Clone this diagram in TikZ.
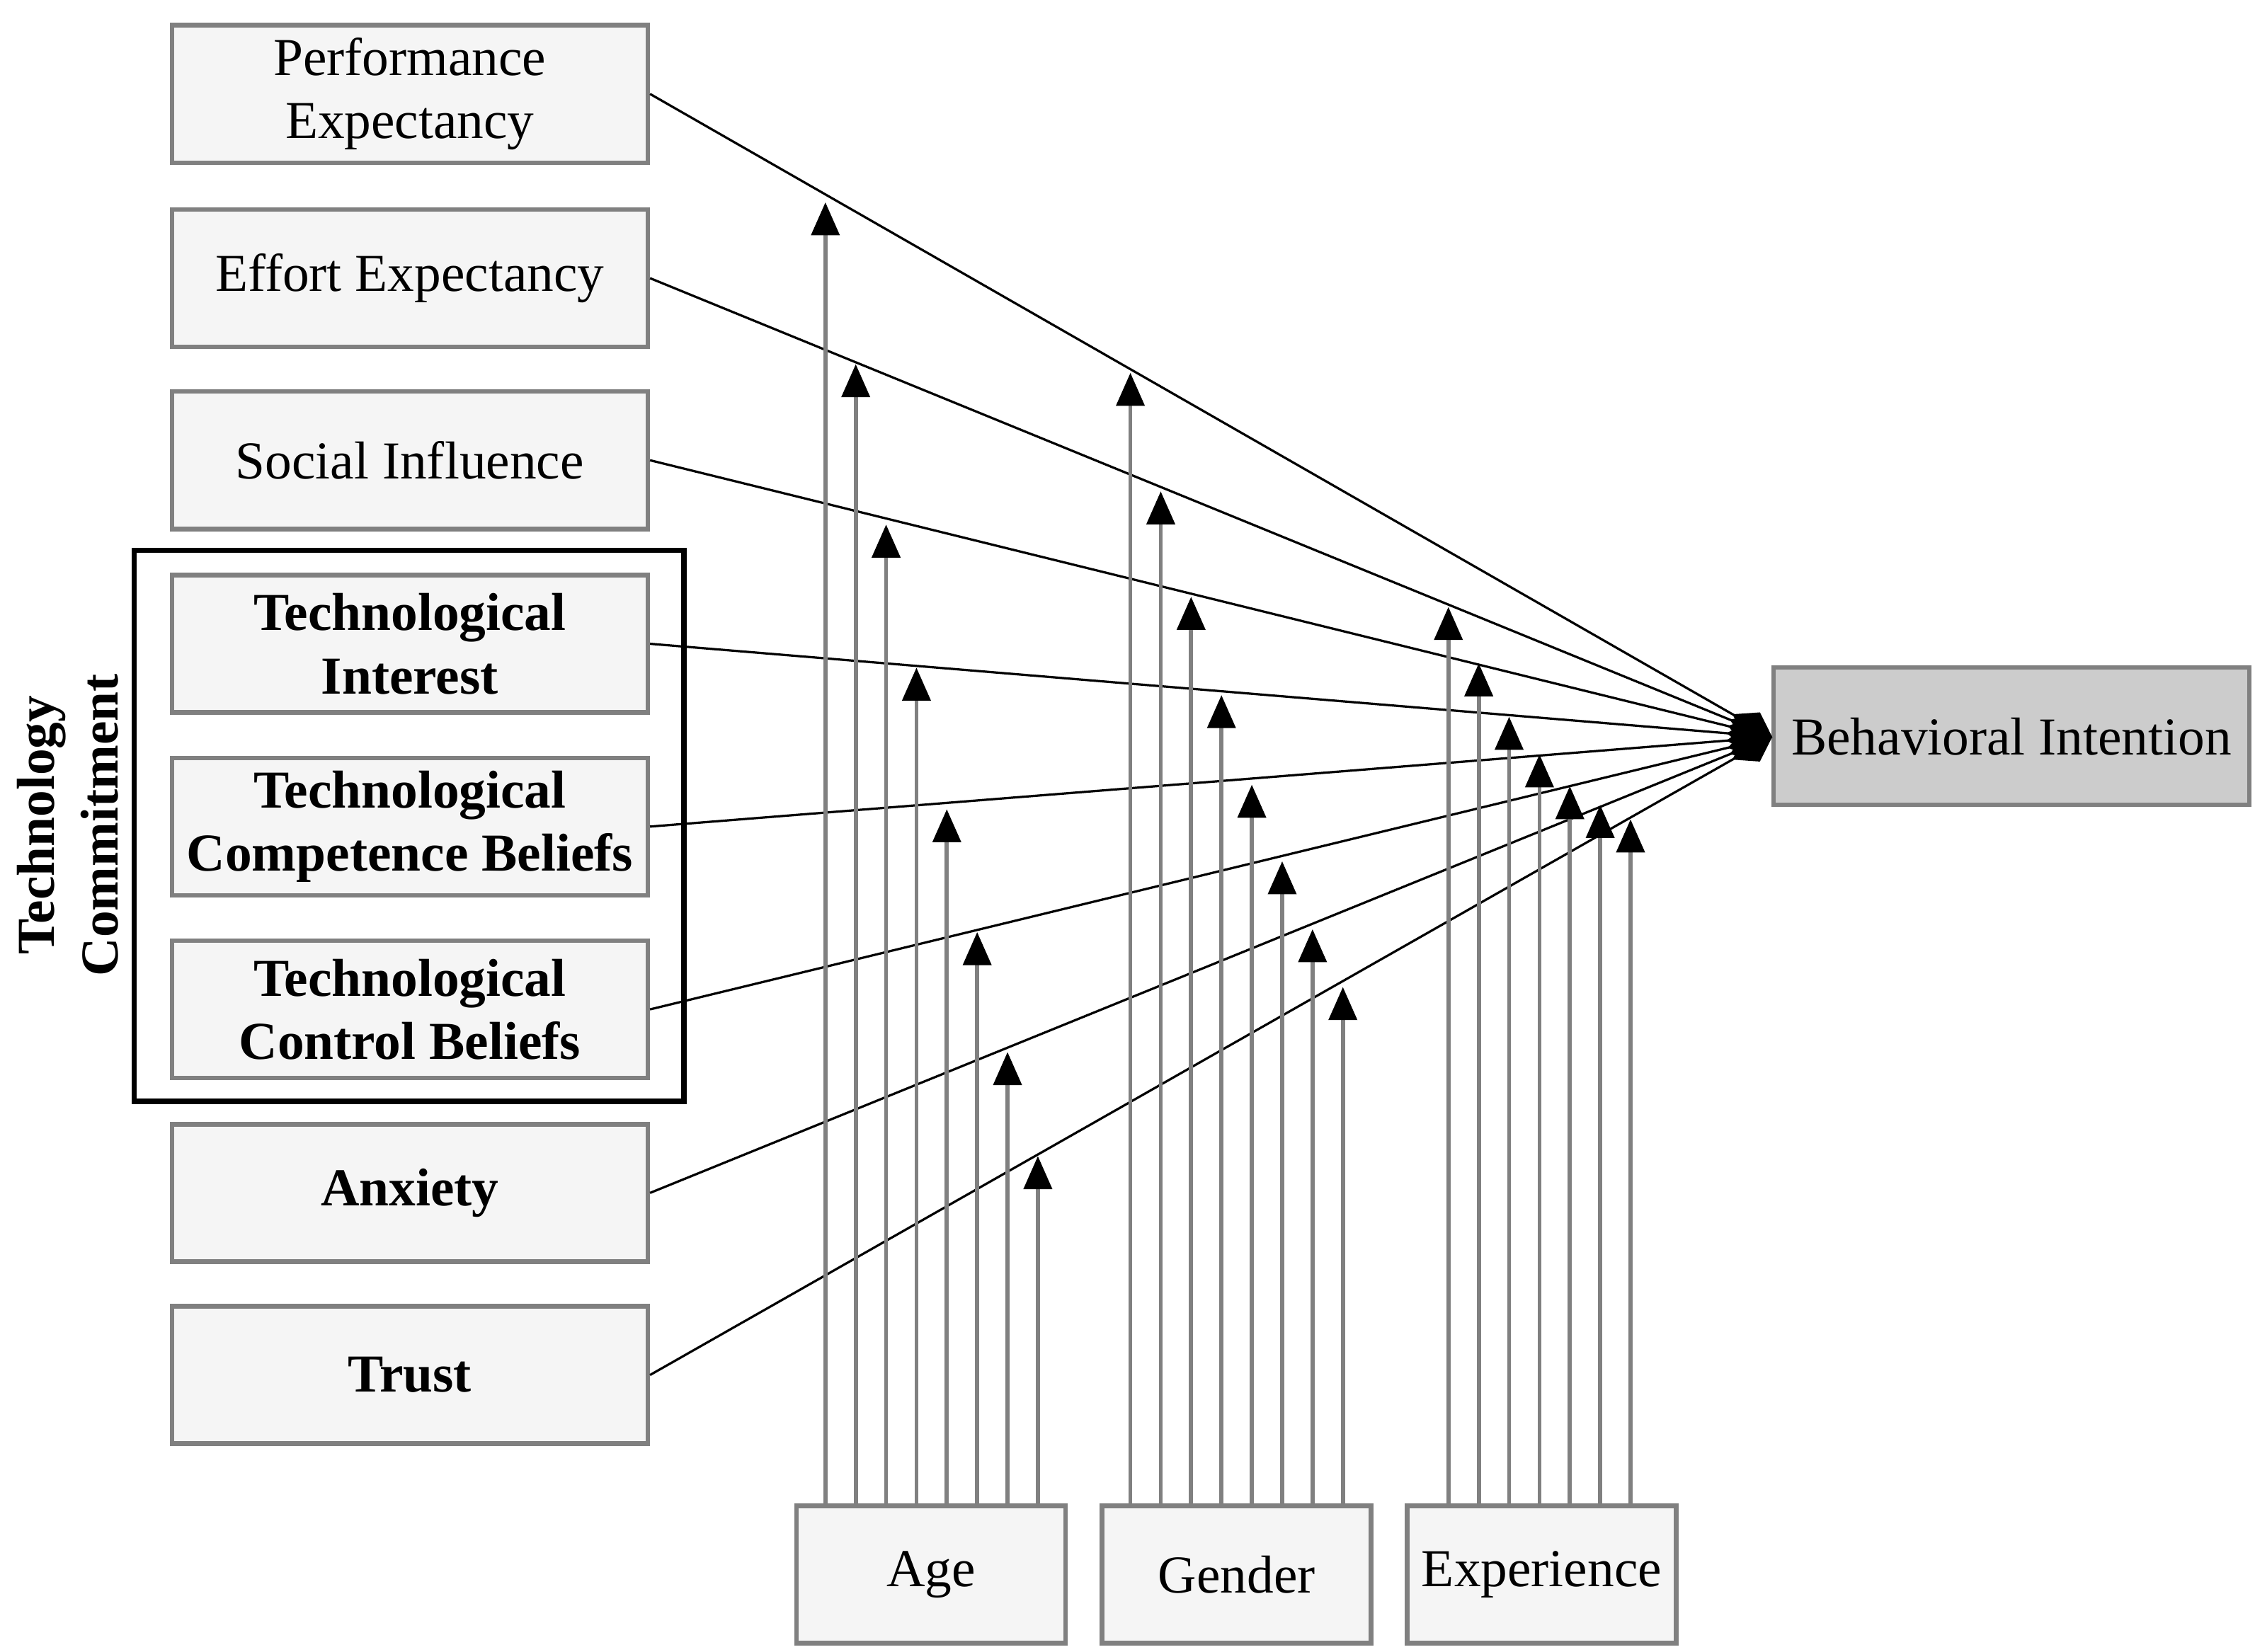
\documentclass[tikz,border=0pt]{standalone}
\usepackage{fontspec}
\setmainfont{Liberation Serif}
\usetikzlibrary{arrows.meta}
\begin{document}
\begin{tikzpicture}[x=0.01cm,y=-0.01cm,
  box/.style={draw=black!50,line width=0.9pt,fill=black!4,minimum width=3.29cm,minimum height=0.95cm,align=center,font=\fontsize{10.5}{12.5}\selectfont,inner sep=0pt},
  mbox/.style={box,minimum width=1.86cm},
  conn/.style={black,line width=0.45pt,-{Diamond[width=6pt,length=9pt]}},
  mod/.style={draw=black!50,line width=0.8pt,-{Triangle[color=black,width=5.5pt,length=6.5pt]}}]
\useasboundingbox (0,0) rectangle (1560,1143);
\node[box] (pe) at (283.5,65) {Performance\\Expectancy};
\node[box] (ee) at (283.5,192.5) {Effort Expectancy};
\node[box] (si) at (283.5,318.5) {Social Influence};
\node[box,font=\fontsize{10.5}{12.5}\selectfont\bfseries] (ti) at (283.5,445.5) {Technological\\Interest};
\node[box,font=\fontsize{10.5}{12.5}\selectfont\bfseries] (tcb) at (283.5,572) {Technological\\Competence Beliefs};
\node[box,font=\fontsize{10.5}{12.5}\selectfont\bfseries] (tcl) at (283.5,698.5) {Technological\\Control Beliefs};
\node[box,font=\fontsize{10.5}{12.5}\selectfont\bfseries] (anx) at (283.5,825.5) {Anxiety};
\node[box,font=\fontsize{10.5}{12.5}\selectfont\bfseries] (tr) at (283.5,951.5) {Trust};
\node[draw=black,line width=1pt,minimum width=3.8cm,minimum height=3.81cm] (grp) at (283,571.5) {};
\node[rotate=90,align=center,font=\fontsize{10.5}{12.5}\selectfont\bfseries] (tcl2) at (47,571) {Technology\\Commitment};
\node[box,fill=black!20] (bi) at (1391.5,509.5) {Behavioral Intention};
\node[mbox] (age) at (644,1089.5) {Age};
\node[mbox] (gen) at (855.5,1089.5) {Gender};
\node[mbox] (exp) at (1066.5,1089.5) {Experience};
\coordinate (hub) at (1226,510);
\foreach \n in {pe,ee,si,ti,tcb,tcl,anx,tr} \draw[conn] (\n.east) -- (hub);
\foreach \x/\t in {571/140,592/252,613/363,634/462,655/560,676/645,697/728,718/800}
  {\coordinate (a\x) at (\x,\t); \draw[mod] (age.north -| a\x) -- (a\x);}
\foreach \x/\t in {782/258,803/340,824/413,845/481,866/543,887/596,908/643,929/683}
  {\coordinate (g\x) at (\x,\t); \draw[mod] (gen.north -| g\x) -- (g\x);}
\foreach \x/\t in {1002/420,1023/459,1044/496,1065/522,1086/544,1107/557,1128/567}
  {\coordinate (e\x) at (\x,\t); \draw[mod] (exp.north -| e\x) -- (e\x);}
\end{tikzpicture}
\end{document}
